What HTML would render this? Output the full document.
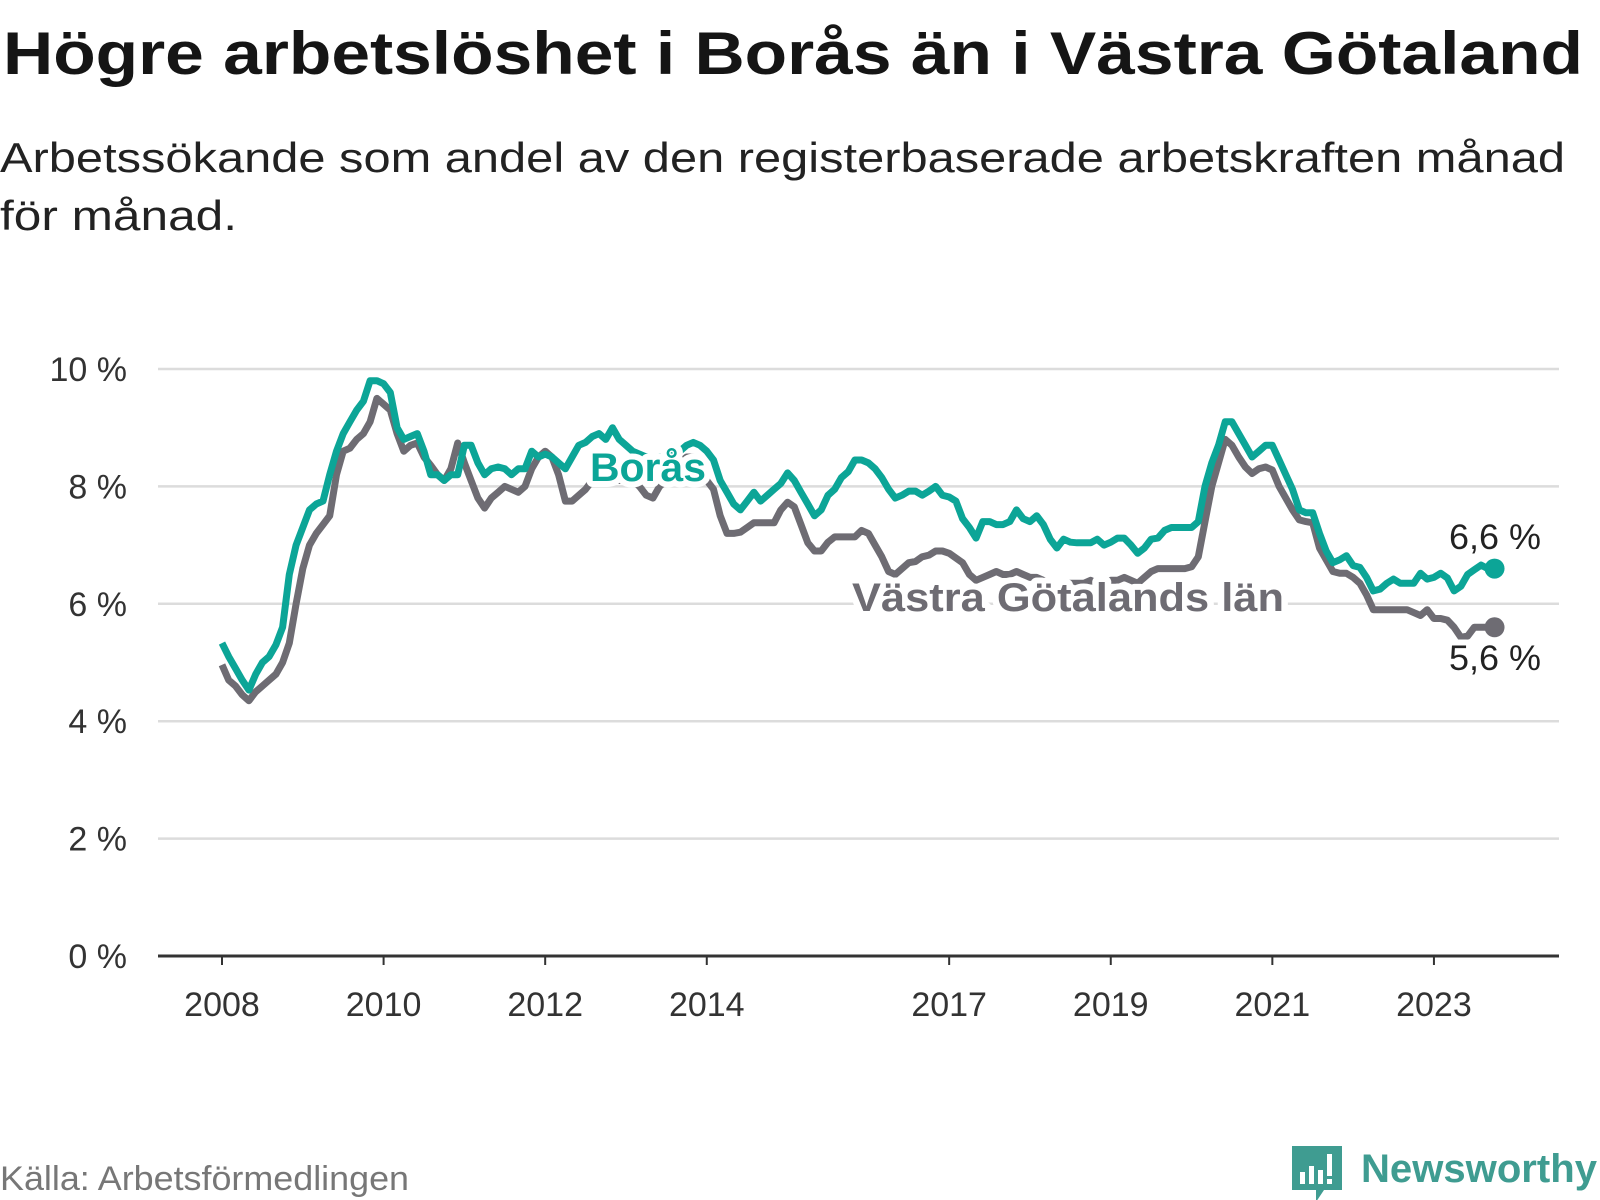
<!DOCTYPE html>
<html><head><meta charset="utf-8">
<style>
html,body{margin:0;padding:0;background:#fff;}
svg{display:block;font-family:"Liberation Sans",sans-serif;}
</style></head>
<body>
<svg id="chart" width="1600" height="1200" viewBox="0 0 1600 1200" xmlns="http://www.w3.org/2000/svg">
<text x="3" y="74" font-size="60" font-weight="bold" fill="#151515" textLength="1580" lengthAdjust="spacingAndGlyphs">Högre arbetslöshet i Borås än i Västra Götaland</text>
<text x="0" y="172" font-size="42" fill="#222" textLength="1565" lengthAdjust="spacingAndGlyphs">Arbetssökande som andel av den registerbaserade arbetskraften månad</text>
<text x="0" y="230" font-size="42" fill="#222" textLength="237" lengthAdjust="spacingAndGlyphs">för månad.</text>
<g id="grid"></g>
<g id="yaxis"></g>
<g id="xaxis"></g>
<g id="series"></g>
<text x="0" y="1190" font-size="34" fill="#777" textLength="409" lengthAdjust="spacingAndGlyphs">Källa: Arbetsförmedlingen</text>
<g>
<path d="M1292 1146 h50 v44 h-18 l-8 12 v-12 h-24 z" fill="#3f9c91"/>
<rect x="1300" y="1172" width="5" height="12" fill="#fff"/>
<rect x="1309" y="1166" width="5" height="18" fill="#fff"/>
<rect x="1318" y="1170" width="5" height="14" fill="#fff"/>
<rect x="1327" y="1154" width="5" height="22" fill="#fff"/>
<rect x="1327" y="1179" width="5" height="5" fill="#fff"/>
<text x="1361" y="1182" font-size="40" font-weight="bold" fill="#3f9c91" textLength="236" lengthAdjust="spacingAndGlyphs">Newsworthy</text>
</g>
</svg>
<script>
const yTicks=[0,2,4,6,8,10];
const yTickLabels=["0 %","2 %","4 %","6 %","8 %","10 %"];
const xTickYears=[2008,2010,2012,2014,2017,2019,2021,2023];
const boras=[5.33,5.1,4.9,4.7,4.53,4.8,5.0,5.1,5.3,5.6,6.5,7.0,
7.3,7.6,7.7,7.75,8.2,8.6,8.9,9.1,9.3,9.45,9.8,9.8,
9.75,9.6,9.0,8.8,8.85,8.9,8.6,8.2,8.2,8.1,8.2,8.2,
8.7,8.7,8.4,8.2,8.3,8.33,8.3,8.2,8.3,8.3,8.6,8.5,
8.55,8.5,8.4,8.3,8.5,8.7,8.75,8.85,8.9,8.8,9.0,8.8,
8.7,8.6,8.55,8.5,8.45,8.5,8.5,8.6,8.6,8.7,8.75,8.7,
8.6,8.45,8.1,7.9,7.7,7.6,7.75,7.9,7.75,7.85,7.95,8.05,
8.23,8.1,7.9,7.7,7.5,7.6,7.85,7.95,8.15,8.25,8.45,8.45,
8.4,8.3,8.15,7.95,7.8,7.85,7.92,7.92,7.85,7.92,8.0,7.85,
7.82,7.75,7.45,7.3,7.12,7.4,7.4,7.35,7.35,7.4,7.6,7.45,
7.4,7.5,7.35,7.1,6.95,7.1,7.05,7.04,7.04,7.04,7.1,7.0,
7.05,7.12,7.12,7.0,6.86,6.95,7.1,7.12,7.25,7.3,7.3,7.3,
7.3,7.4,8.0,8.4,8.7,9.1,9.1,8.9,8.7,8.5,8.6,8.7,
8.7,8.45,8.2,7.95,7.6,7.55,7.55,7.2,6.9,6.7,6.75,6.82,
6.65,6.62,6.45,6.22,6.25,6.35,6.42,6.35,6.35,6.35,6.52,6.42,
6.45,6.52,6.44,6.22,6.3,6.5,6.58,6.66,6.6,6.6];
const vastra=[4.96,4.7,4.6,4.45,4.35,4.5,4.6,4.7,4.8,5.0,5.33,6.0,
6.6,7.0,7.2,7.35,7.5,8.2,8.6,8.65,8.8,8.9,9.1,9.5,
9.4,9.3,8.9,8.6,8.7,8.74,8.5,8.36,8.2,8.1,8.3,8.74,
8.4,8.1,7.8,7.63,7.8,7.9,8.0,7.95,7.9,8.0,8.3,8.5,
8.6,8.5,8.2,7.75,7.75,7.85,7.95,8.1,8.3,8.4,8.3,8.1,
8.2,8.1,8.0,7.85,7.8,8.0,8.1,8.3,8.4,8.5,8.5,8.3,
8.1,7.95,7.5,7.2,7.2,7.22,7.3,7.38,7.38,7.38,7.38,7.6,
7.73,7.65,7.35,7.04,6.9,6.9,7.05,7.14,7.14,7.14,7.14,7.25,
7.2,7.0,6.8,6.55,6.5,6.6,6.7,6.72,6.8,6.83,6.9,6.9,
6.86,6.78,6.7,6.5,6.4,6.45,6.5,6.55,6.5,6.5,6.55,6.5,
6.45,6.45,6.4,6.35,6.3,6.35,6.35,6.35,6.35,6.4,6.35,6.35,
6.4,6.4,6.45,6.4,6.35,6.45,6.55,6.6,6.6,6.6,6.6,6.6,
6.63,6.8,7.4,8.0,8.4,8.8,8.7,8.5,8.33,8.22,8.3,8.33,
8.28,8.0,7.8,7.6,7.43,7.4,7.38,6.95,6.75,6.55,6.52,6.52,
6.45,6.35,6.15,5.9,5.9,5.9,5.9,5.9,5.9,5.85,5.8,5.9,
5.75,5.75,5.72,5.6,5.43,5.45,5.6,5.6,5.6,5.6];
const borasLast="6,6 %", vastraLast="5,6 %";

const NS="http://www.w3.org/2000/svg";
const X0=222, MONTH=6.733, Y0=956, YPER=58.7;
function xScale(m){return X0+m*MONTH;}
function yScale(v){return Y0-v*YPER;}
function mk(tag,attrs,parent){const e=document.createElementNS(NS,tag);for(const k in attrs)e.setAttribute(k,attrs[k]);parent.appendChild(e);return e;}
const grid=document.getElementById('grid'),yax=document.getElementById('yaxis'),xax=document.getElementById('xaxis'),ser=document.getElementById('series');
yTicks.forEach((t,i)=>{
  if(t>0){const l=mk('line',{x1:158,x2:1559,y1:yScale(t),y2:yScale(t),stroke:'#dcdcdc','stroke-width':2.5},grid);
  
  }
  const tx=mk('text',{x:127,y:yScale(t)+12,'font-size':34,fill:'#333','text-anchor':'end'},yax);
  tx.textContent=yTickLabels[i];
  
  
});
const ax=mk('line',{x1:158,x2:1559,y1:Y0,y2:Y0,stroke:'#333','stroke-width':3},xax);


xTickYears.forEach(yr=>{
  const x=xScale((yr-2008)*12);
  const tk=mk('line',{x1:x,x2:x,y1:Y0,y2:Y0+9,stroke:'#333','stroke-width':2},xax);
  
  
  const t=mk('text',{x:x,y:1016,'font-size':34,fill:'#333','text-anchor':'middle'},xax);
  t.textContent=yr;
  
  
});
function pts(arr){return arr.map((v,i)=>xScale(i).toFixed(1)+','+yScale(v).toFixed(1)).join(' ');}
const gl=mk('polyline',{points:pts(vastra),fill:'none',stroke:'#6e6c73','stroke-width':7,'stroke-linejoin':'round'},ser);


const tl=mk('polyline',{points:pts(boras),fill:'none',stroke:'#0ca597','stroke-width':7,'stroke-linejoin':'round'},ser);


const nb=boras.length-1, nv=vastra.length-1;
const d1=mk('circle',{cx:xScale(nv),cy:yScale(vastra[nv]),r:10,fill:'#6e6c73'},ser);


const d2=mk('circle',{cx:xScale(nb),cy:yScale(boras[nb]),r:10,fill:'#0ca597'},ser);


function label(txt,x,y,fill,size,bold,name,len){
  const a={x:x,y:y,'font-size':size,'font-weight':bold?'bold':'normal'};
  if(len){a.textLength=len;a.lengthAdjust='spacingAndGlyphs';}
  const h=mk('text',Object.assign({fill:'#fff',stroke:'#fff','stroke-width':12,'stroke-linejoin':'round'},a),ser);
  h.textContent=txt;
  
  
  const t=mk('text',Object.assign({fill:fill},a),ser);
  t.textContent=txt;
  
  
}
label('Borås',590,481,'#0ca597',40,true,'label-boras',116);
label('Västra Götalands län',852,611,'#6e6c73',40,true,'label-vastra-gotaland',432);
label(borasLast,1449,549,'#222',35,false,'end-value-boras',92);
label(vastraLast,1449,670,'#222',35,false,'end-value-vastra',92);
</script>
</body></html>
